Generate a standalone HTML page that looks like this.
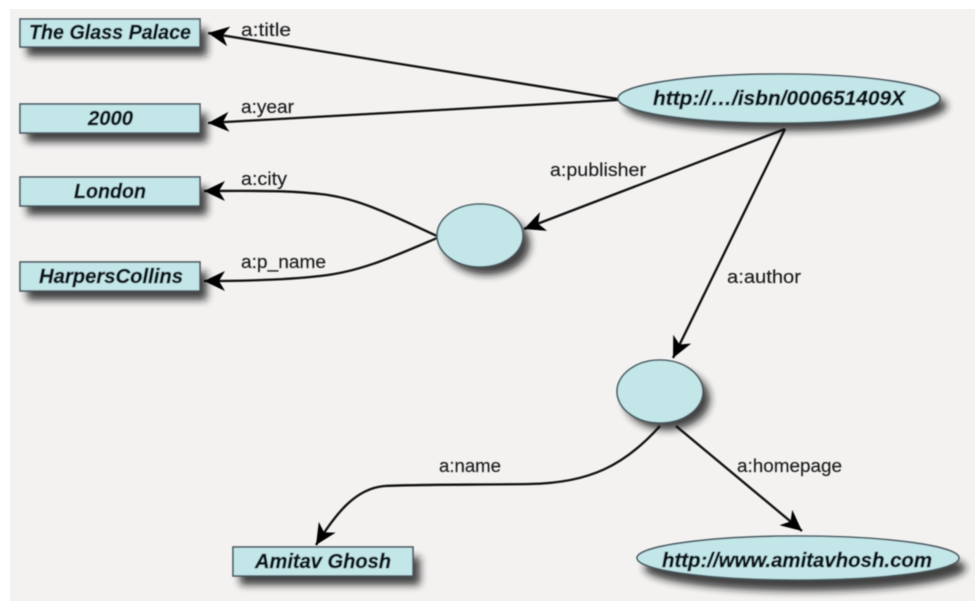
<!DOCTYPE html>
<html><head><meta charset="utf-8"><style>
html,body{margin:0;padding:0;background:#fff;width:975px;height:605px;overflow:hidden}
svg{display:block}
.n{font-family:"Liberation Sans",sans-serif;font-weight:bold;font-style:italic;font-size:20px;fill:#0c151a;stroke:#0c151a;stroke-width:.45}
.l{font-family:"Liberation Sans",sans-serif;font-size:18px;fill:#1e1e1e;stroke:#1e1e1e;stroke-width:.15}
.s{fill:#161616;filter:url(#b);opacity:.8}
.f{fill:#c3e6e9;stroke:#48595f;stroke-width:1.6}
.e{fill:none;stroke:#0a0a0a;stroke-width:2.3}
</style></head><body>
<svg width="975" height="605" viewBox="0 0 975 605" xmlns="http://www.w3.org/2000/svg">
<defs>
<filter id="b" x="-20%" y="-80%" width="140%" height="260%"><feGaussianBlur stdDeviation="4"/></filter>
<filter id="t" x="-5%" y="-20%" width="110%" height="140%"><feGaussianBlur stdDeviation="0.45"/></filter>
<marker id="a" markerUnits="userSpaceOnUse" markerWidth="26" markerHeight="26" refX="21" refY="13" orient="auto">
<path d="M21 13 L0 3 L6 13 L0 23 Z" fill="#050505"/>
</marker>
<clipPath id="c"><rect x="10" y="9" width="965" height="592"/></clipPath>
</defs>
<rect x="10" y="9" width="965" height="592" fill="#f3f2f1"/>
<g clip-path="url(#c)">
<rect class="s" x="27" y="29" width="180" height="27"/>
<rect class="s" x="27" y="114" width="180" height="28"/>
<rect class="s" x="27" y="187" width="180" height="28"/>
<rect class="s" x="27" y="272" width="180" height="28"/>
<rect class="s" x="240" y="557" width="180" height="28"/>
<ellipse class="s" cx="786" cy="106" rx="161" ry="25"/>
<ellipse class="s" cx="487" cy="244" rx="43" ry="31"/>
<ellipse class="s" cx="667" cy="399" rx="43" ry="31"/>
<ellipse class="s" cx="805" cy="568" rx="161" ry="23"/>
</g>
<g filter="url(#t)">
<path class="e" d="M618 99 L208 33" marker-end="url(#a)"/>
<path class="e" d="M618 100 L208 123" marker-end="url(#a)"/>
<path class="e" d="M437 236 C395 217 360 198 320 194 C285 190 245 191 204 191" marker-end="url(#a)"/>
<path class="e" d="M437 238 C395 256 360 272 320 276 C285 280 245 281 204 281" marker-end="url(#a)"/>
<path class="e" d="M785 129 L524 229" marker-end="url(#a)"/>
<path class="e" d="M785 129 L673 358" marker-end="url(#a)"/>
<path class="e" d="M660 426 C625 465 590 483 530 484 C480 485 430 484 385 486 C355 488 335 515 316 545" marker-end="url(#a)"/>
<path class="e" d="M676 426 L802 531" marker-end="url(#a)"/>
<rect class="f" x="20" y="19" width="180" height="28"/>
<rect class="f" x="20" y="104" width="180" height="29"/>
<rect class="f" x="20" y="177" width="180" height="29"/>
<rect class="f" x="20" y="262" width="180" height="29"/>
<rect class="f" x="233" y="547" width="180" height="29"/>
<ellipse class="f" cx="779" cy="98.5" rx="161" ry="24.5"/>
<ellipse class="f" cx="480" cy="235.5" rx="43" ry="31.5"/>
<ellipse class="f" cx="660" cy="391.5" rx="43" ry="31.5"/>
<ellipse class="f" cx="798" cy="558" rx="161" ry="22"/>
<text class="n" x="29" y="39" textLength="162" lengthAdjust="spacingAndGlyphs">The Glass Palace</text>
<text class="n" x="88" y="125" textLength="45" lengthAdjust="spacingAndGlyphs">2000</text>
<text class="n" x="74" y="198" textLength="72" lengthAdjust="spacingAndGlyphs">London</text>
<text class="n" x="39" y="283" textLength="144" lengthAdjust="spacingAndGlyphs">HarpersCollins</text>
<text class="n" x="255" y="568" textLength="136" lengthAdjust="spacingAndGlyphs">Amitav Ghosh</text>
<text class="n" x="653" y="105" textLength="252" lengthAdjust="spacingAndGlyphs">http://…/isbn/000651409X</text>
<text class="n" x="662" y="567" textLength="270" lengthAdjust="spacingAndGlyphs">http://www.amitavhosh.com</text>
<text class="l" x="241" y="36" textLength="50" lengthAdjust="spacingAndGlyphs">a:title</text>
<text class="l" x="241" y="113" textLength="53" lengthAdjust="spacingAndGlyphs">a:year</text>
<text class="l" x="241" y="185" textLength="46" lengthAdjust="spacingAndGlyphs">a:city</text>
<text class="l" x="241" y="268" textLength="85" lengthAdjust="spacingAndGlyphs">a:p_name</text>
<text class="l" x="550" y="176" textLength="96" lengthAdjust="spacingAndGlyphs">a:publisher</text>
<text class="l" x="727" y="283" textLength="74" lengthAdjust="spacingAndGlyphs">a:author</text>
<text class="l" x="439" y="472" textLength="62" lengthAdjust="spacingAndGlyphs">a:name</text>
<text class="l" x="737" y="472" textLength="105" lengthAdjust="spacingAndGlyphs">a:homepage</text>
</g>
</svg>
</body></html>
